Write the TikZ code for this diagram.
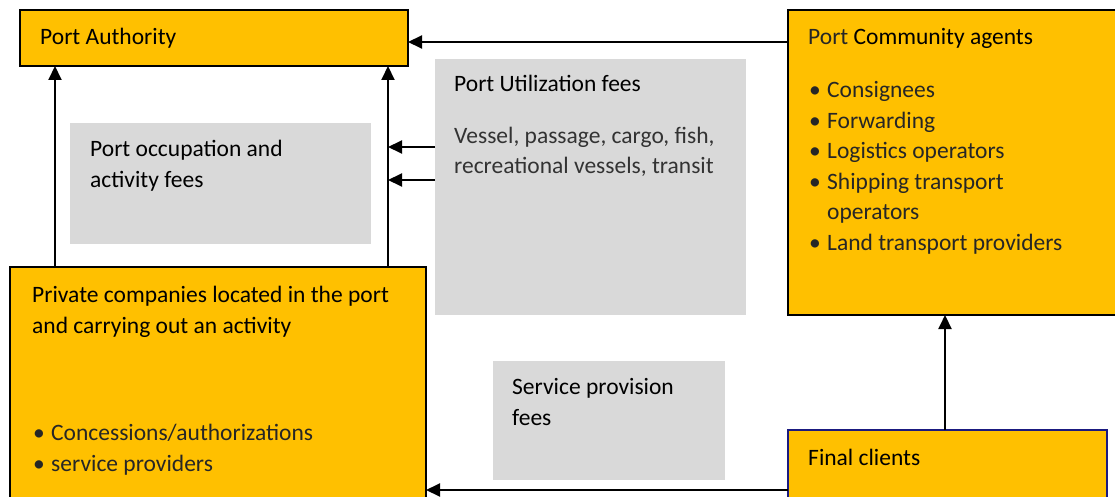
\documentclass[tikz,border=0pt]{standalone}
\usepackage{fontspec}
\setmainfont{Carlito}
\usetikzlibrary{arrows.meta}
\definecolor{portorange}{HTML}{FFC000}
\definecolor{feegray}{HTML}{D9D9D9}
\definecolor{clientnavy}{HTML}{1A1A80}
\newcommand{\pitem}[1]{\makebox[19pt][l]{\hspace{1pt}\textbullet}#1}
\newcommand{\pcont}[1]{\makebox[19pt][l]{}#1}
\tikzset{
  actor/.style={draw=black,line width=1.8pt,fill=portorange,anchor=north west,inner sep=0pt,outer sep=0pt},
  fee/.style={fill=feegray,anchor=north west,inner sep=0pt,outer sep=0pt},
  % base anchor = baseline of the last line
  txt/.style={anchor=base west,align=left,inner sep=0pt,font=\fontsize{23.5}{30.5}\selectfont},
  arr/.style={line width=2pt,-{Triangle[length=14pt,width=13pt]}}
}
\begin{document}
\begin{tikzpicture}[x=1pt,y=-1pt]
  \clip (0,0) rectangle (1115,497);
  \fill[white] (0,0) rectangle (1115,497);
    % boxes
    \node[actor,minimum width=388pt,minimum height=56pt] (pa) at (20,10) {};
    \node[actor,minimum width=340pt,minimum height=305pt] (pcom) at (788,10) {};
    \node[actor,minimum width=416pt,minimum height=250pt] (priv) at (10,267) {};
    \node[actor,draw=clientnavy,minimum width=319pt,minimum height=80pt] (fin) at (788,430) {};
    \node[fee,minimum width=301pt,minimum height=121pt] (occ) at (70,123) {};
    \node[fee,minimum width=311pt,minimum height=256pt] (util) at (435,59) {};
    \node[fee,minimum width=232pt,minimum height=119pt] (serv) at (493,361) {};
    % texts
    \node[txt] (patxt) at (40,45) {Port Authority};
    \node[txt] (pcomtxt) at (808,45) {\color{black!85}Port \color{black}Community agents};
    \node[txt,text=black!85] (pcomlist) at (808,250) {\pitem{Consignees}\\ \pitem{Forwarding}\\ \pitem{Logistics operators}\\
      \pitem{Shipping transport}\\ \pcont{operators}\\ \pitem{Land transport providers}};
    \node[txt] (privtxt) at (32,333) {Private companies located in the port\\ and carrying out an activity};
    \node[txt,text=black!85] (privlist) at (32,471) {\pitem{Concessions/authorizations}\\ \pitem{service providers}};
    \node[txt] (fintxt) at (808,465) {Final clients};
    \node[txt] (occtxt) at (90,187) {Port occupation and\\ activity fees};
    \node[txt] (utiltxt) at (454,92) {Port Utilization fees};
    \node[txt,text=black!80] (utillist) at (454,174) {Vessel, passage, cargo, fish,\\ recreational vessels, transit};
    \node[txt] (servtxt) at (512,425) {Service provision\\ fees};
    % connectors
    \coordinate (lline) at ([xshift=35pt]pa.south west);
    \coordinate (rline) at ([xshift=-20pt]pa.south east);
    \draw[arr] (pcom.west |- 0,42) -- (pa.east |- 0,42);
    \draw[arr] (lline |- priv.north) -- (lline);
    \draw[arr] (rline |- priv.north) -- (rline);
    \draw[arr] ([yshift=-88pt]util.north west) -- ([yshift=-88pt]util.north west -| rline);
    \draw[arr] ([yshift=-121pt]util.north west) -- ([yshift=-121pt]util.north west -| rline);
    \draw[arr] ([xshift=157pt]fin.north west) -- ([xshift=157pt]fin.north west |- pcom.south);
    \draw[arr] ([yshift=-60pt]fin.north west) -- ([yshift=-60pt]fin.north west -| priv.east);
\end{tikzpicture}
\end{document}
